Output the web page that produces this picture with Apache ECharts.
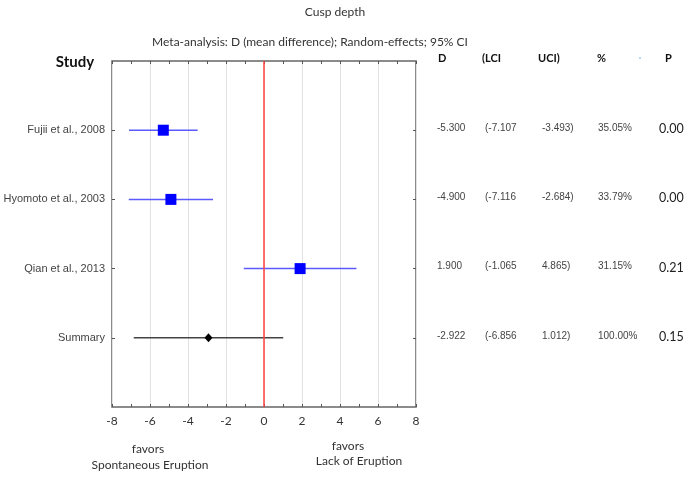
<!DOCTYPE html>
<html><head><meta charset="utf-8">
<script src="https://cdn.jsdelivr.net/npm/echarts@6/dist/echarts.min.js"></script>
<style>html,body{margin:0;padding:0;background:#fff}#c{width:685px;height:477px}</style>
</head><body><div id="c"></div>
<script>
const studies = ['Fujii et al., 2008', 'Hyomoto et al., 2003', 'Qian et al., 2013', 'Summary'];
const meanDiff = [-5.3, -4.9, 1.9, -2.922];
const lowerCI = [-7.107, -7.116, -1.065, -6.856];
const upperCI = [-3.493, -2.684, 4.865, 1.012];
const weights = ['35.05%', '33.79%', '31.15%', '100.00%'];
const pValues = ['0.00', '0.00', '0.21', '0.15'];
const dText = ['-5.300', '-4.900', '1.900', '-2.922'];
const lciText = ['(-7.107', '(-7.116', '(-1.065', '(-6.856'];
const uciText = ['-3.493)', '-2.684)', '4.865)', '1.012)'];
const headers = ['D', '(LCI', 'UCI)', '%', 'P'];
const xMin = -8, xMax = 8, xStep = 2;

const rows = ['_top', ...studies, '_bottom'];
const chart = echarts.init(document.getElementById('c'), null, {renderer: 'canvas'});
const sans = '"Liberation Sans", Arial, sans-serif';
const cal = 'Lato, "Open Sans", sans-serif';

const colX = [437, 485, 542, 598, 659];
const headX = [438, 482, 538, 597, 665];

const ciData = studies.map((s, i) => [lowerCI[i], upperCI[i], s, i]);
const tableData = studies.map((s, i) => [0, s, i]);

chart.setOption({
  animation: false,
  grid: {left: 112, right: 269, top: 61, bottom: 70, show: true, borderColor: '#666', borderWidth: 1.5, backgroundColor: 'transparent'},
  xAxis: [{
    type: 'value', position: 'bottom', min: xMin, max: xMax, interval: xStep,
    axisLine: {show: false, onZero: false},
    axisTick: {show: true, inside: true, length: 3, lineStyle: {color: '#555'}},
    minorTick: {show: true, splitNumber: 2, length: 3, lineStyle: {color: '#555'}},
    axisLabel: {fontFamily: cal, fontSize: 12, color: '#333', margin: 8},
    splitLine: {show: true, lineStyle: {color: '#e2e2e2', width: 1}}
  }, {
    type: 'value', position: 'top', min: xMin, max: xMax, interval: 1,
    axisLine: {show: false, onZero: false},
    axisTick: {show: true, inside: true, length: 3, lineStyle: {color: '#555'}},
    axisLabel: {show: false}, splitLine: {show: false}
  }],
  yAxis: [{
    type: 'category', data: rows, inverse: true, boundaryGap: false, position: 'left',
    axisLine: {show: false, onZero: false},
    axisTick: {show: true, inside: true, length: 3, interval: (i) => i > 0 && i < rows.length - 1, lineStyle: {color: '#555'}},
    axisLabel: {interval: 0, fontFamily: sans, fontSize: 11, color: '#444', margin: 7,
      formatter: (v) => v.charAt(0) === '_' ? '' : v},
    splitLine: {show: false}
  }, {
    type: 'category', data: rows, inverse: true, boundaryGap: false, position: 'right',
    axisLine: {show: false, onZero: false},
    axisTick: {show: true, inside: true, length: 3, interval: (i) => i > 0 && i < rows.length - 1, lineStyle: {color: '#555'}},
    axisLabel: {show: false}, splitLine: {show: false}
  }],
  series: [{
    type: 'custom', xAxisIndex: 0, yAxisIndex: 0,
    data: ciData,
    renderItem: (params, api) => {
      const a = api.coord([api.value(0), api.value(2)]);
      const b = api.coord([api.value(1), api.value(2)]);
      const isSum = api.value(3) === studies.length - 1;
      return {type: 'line', shape: {x1: a[0], y1: a[1], x2: b[0], y2: b[1]},
        style: {stroke: isSum ? '#444' : '#5a5aff', lineWidth: 1.5}};
    },
    z: 2
  }, {
    type: 'scatter', xAxisIndex: 0, yAxisIndex: 0,
    data: studies.map((s, i) => ({
      value: [meanDiff[i], s],
      symbol: i === studies.length - 1 ? 'diamond' : 'rect',
      symbolSize: i === studies.length - 1 ? [8, 9] : 11,
      itemStyle: {color: i === studies.length - 1 ? '#000' : '#0000ff', opacity: 1}
    })),
    itemStyle: {opacity: 1},
    z: 3,
    markLine: {silent: true, symbol: 'none', label: {show: false},
      lineStyle: {color: '#ff4040', width: 1.5, type: 'solid'},
      data: [{xAxis: 0}]}
  }, {
    type: 'custom', xAxisIndex: 0, yAxisIndex: 0,
    data: tableData, clip: false,
    renderItem: (params, api) => {
      const i = api.value(2);
      const y = api.coord([0, studies[i]])[1] - 2;
      const vals = [dText[i], lciText[i], uciText[i], weights[i]];
      const children = vals.map((t, k) => ({type: 'text', x: colX[k], y: y,
        style: {text: t, fontFamily: sans, fontSize: 10, fill: '#444', textVerticalAlign: 'middle', textAlign: 'left'}}));
      children.push({type: 'text', x: colX[4], y: y + 1,
        style: {text: pValues[i], fontFamily: cal, fontSize: 12.5, fill: '#222', textVerticalAlign: 'middle', textAlign: 'left'}});
      return {type: 'group', children};
    }
  }],
  graphic: [
    {type: 'text', x: 335, y: 12, style: {text: 'Cusp depth', fontFamily: cal, fontSize: 12, fill: '#333', textAlign: 'center', textVerticalAlign: 'middle'}},
    {type: 'text', x: 310, y: 42, style: {text: 'Meta-analysis: D (mean difference); Random-effects; 95% CI', fontFamily: cal, fontSize: 12, fill: '#333', textAlign: 'center', textVerticalAlign: 'middle'}},
    {type: 'text', x: 75, y: 62, style: {text: 'Study', fontFamily: cal, fontSize: 15, fontWeight: 'bold', fill: '#111', textAlign: 'center', textVerticalAlign: 'middle'}},
    ...headers.map((h, k) => ({type: 'text', x: headX[k], y: 58,
      style: {text: h, fontFamily: cal, fontSize: 11, fontWeight: 'bold', fill: '#111', textAlign: 'left', textVerticalAlign: 'middle'}})),
    {type: 'circle', shape: {cx: 640, cy: 58, r: 1}, style: {fill: '#9fd0e8'}},
    {type: 'text', x: 148, y: 449, style: {text: 'favors', fontFamily: cal, fontSize: 12, fill: '#333', textAlign: 'center', textVerticalAlign: 'middle'}},
    {type: 'text', x: 150, y: 465, style: {text: 'Spontaneous Eruption', fontFamily: cal, fontSize: 12, fill: '#333', textAlign: 'center', textVerticalAlign: 'middle'}},
    {type: 'text', x: 348, y: 446, style: {text: 'favors', fontFamily: cal, fontSize: 12, fill: '#333', textAlign: 'center', textVerticalAlign: 'middle'}},
    {type: 'text', x: 359, y: 461, style: {text: 'Lack of Eruption', fontFamily: cal, fontSize: 12, fill: '#333', textAlign: 'center', textVerticalAlign: 'middle'}}
  ]
});
</script></body></html>
